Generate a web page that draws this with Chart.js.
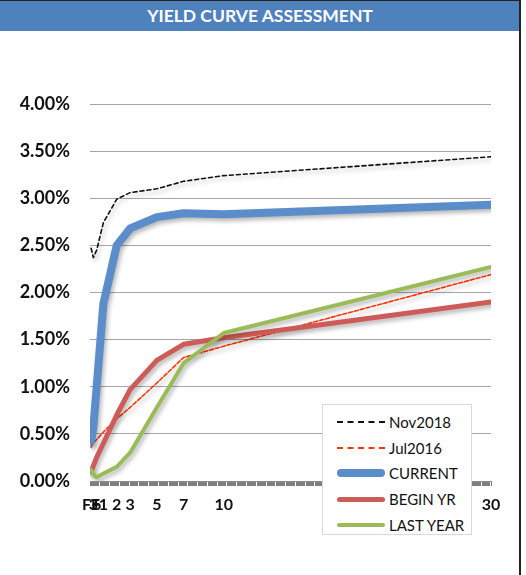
<!DOCTYPE html>
<html>
<head>
<meta charset="utf-8">
<script src="https://cdn.jsdelivr.net/npm/chart.js@4.4.1/dist/chart.umd.min.js"></script>
<style>
  body { margin: 0; background: #fff; font-family: Lato, "Open Sans", sans-serif; }
  #wrap { position: relative; width: 526px; height: 575px; overflow: hidden; }
  #frame { position: absolute; left: 0; top: 0; width: 521px; height: 575px; border-top: 1px solid #222; border-right: 2px solid #222; box-sizing: border-box; pointer-events: none; }
  #banner { position: absolute; left: 0; top: 1px; width: 520px; height: 30px; background: #4F81BD; color: #fff; font-weight: 700; font-size: 17.5px; text-align: center; line-height: 30px; }
  #legend { position: absolute; left: 322px; top: 404px; width: 150px; height: 131px; border: 1px solid #d9d9d9; background: #fff; box-sizing: border-box; }
  .row { position: absolute; left: 14px; height: 20px; display: flex; align-items: center; font-size: 15px; color: #111; }
  .sample { width: 48px; margin-right: 4px; }
</style>
</head>
<body>
<div id="wrap">
  <canvas id="yieldChart" width="526" height="575"></canvas>
  <div id="banner">YIELD CURVE ASSESSMENT</div>
  <div id="legend"></div>
  <div id="frame"></div>
</div>
<script>
// tenors in years, and the label shown under each
const tenors = [1 / 12, 0.25, 0.5, 1, 2, 3, 5, 7, 10, 30];
const tenorLabels = ["FF", "3", "6", "1", "2", "3", "5", "7", "10", "30"];

// yields in percent
const nov2018 = [2.47, 2.37, 2.45, 2.74, 2.99, 3.06, 3.10, 3.18, 3.24, 3.44];
const jul2016 = [0.36, 0.40, 0.44, 0.52, 0.66, 0.78, 1.04, 1.31, 1.43, 2.19];
const current = [0.42, 0.57, 1.00, 1.88, 2.50, 2.68, 2.80, 2.84, 2.83, 2.93];
const beginYr = [0.10, 0.16, 0.25, 0.40, 0.70, 0.97, 1.28, 1.45, 1.52, 1.90];
const lastYear = [0.12, 0.07, 0.04, 0.08, 0.15, 0.30, 0.78, 1.25, 1.57, 2.27];

const yTicks = [0, 0.5, 1, 1.5, 2, 2.5, 3, 3.5, 4];

Chart.defaults.font.family = "Lato";

function pts(values) {
  return values.map((v, i) => ({ x: tenors[i], y: v }));
}

const series = [
  { label: "Nov2018", data: pts(nov2018), borderColor: "#111111", borderWidth: 1.6, borderDash: [4, 3], order: 5 },
  { label: "Jul2016", data: pts(jul2016), borderColor: "#FF3300", borderWidth: 1.6, borderDash: [4, 2], order: 4 },
  { label: "CURRENT", data: pts(current), borderColor: "#5A8DCA", borderWidth: 8, order: 3 },
  { label: "BEGIN YR", data: pts(beginYr), borderColor: "#CD5B57", borderWidth: 5, order: 2 },
  { label: "LAST YEAR", data: pts(lastYear), borderColor: "#9BBB59", borderWidth: 4, order: 1 }
];

// soft drop shadow like the spreadsheet lines
const shadowPlugin = {
  id: "shadow",
  beforeDatasetsDraw(chart) {
    const ctx = chart.ctx;
    ctx.save();
    ctx.shadowColor = "rgba(0,0,0,0.28)";
    ctx.shadowBlur = 4;
    ctx.shadowOffsetX = 2;
    ctx.shadowOffsetY = 3;
  },
  afterDatasetsDraw(chart) {
    chart.ctx.restore();
  }
};

const ctx = document.getElementById("yieldChart").getContext("2d");

new Chart(ctx, {
  type: "line",
  data: {
    datasets: series.map(s => Object.assign({
      pointRadius: 0,
      fill: false,
      tension: 0,
      borderCapStyle: "round",
      borderJoinStyle: "round"
    }, s))
  },
  options: {
    responsive: false,
    animation: false,
    layout: { padding: { top: 104, right: 35, bottom: 0, left: 0 } },
    plugins: {
      legend: { display: false },
      tooltip: { enabled: false }
    },
    scales: {
      x: {
        type: "linear",
        min: 0,
        max: 30,
        afterFit(scale) { scale.height = 94; },
        afterBuildTicks(scale) {
          // one small tick per month, like the category axis in the original
          const t = [];
          for (let m = 0; m <= 360; m++) t.push({ value: m / 12 });
          scale.ticks = t;
        },
        ticks: {
          autoSkip: false,
          maxRotation: 0,
          padding: 9,
          color: "#111",
          font: { size: 16, weight: "bold" },
          callback(value) {
            const i = tenors.findIndex(t => Math.abs(t - value) < 1e-6);
            return i >= 0 ? tenorLabels[i] : "";
          }
        },
        grid: { drawOnChartArea: false, drawTicks: true, tickLength: 5, color: "#7f7f7f", lineWidth: 1 },
        border: { display: true, color: "#8c8c8c", width: 1 }
      },
      y: {
        min: 0,
        max: 4,
        afterFit(scale) { scale.width = 90; },
        afterBuildTicks(scale) {
          scale.ticks = yTicks.map(v => ({ value: v }));
        },
        ticks: {
          padding: 20,
          color: "#111",
          font: { size: 18, weight: "bold" },
          callback: v => v.toFixed(2) + "%"
        },
        grid: { color: "#a6a6a6", lineWidth: 1, drawTicks: false },
        border: { display: false }
      }
    }
  },
  plugins: [shadowPlugin]
});

// legend inside the plot, built from the same series
const legend = document.getElementById("legend");
series.forEach((s, i) => {
  const row = document.createElement("div");
  row.className = "row";
  row.style.top = (7 + i * 25.7) + "px";
  const sample = document.createElement("div");
  sample.className = "sample";
  if (s.borderDash) {
    sample.style.borderTop = "2px dashed " + s.borderColor;
  } else {
    sample.style.height = s.borderWidth + "px";
    sample.style.background = s.borderColor;
    sample.style.borderRadius = s.borderWidth / 2 + "px";
  }
  const text = document.createElement("span");
  text.textContent = s.label;
  row.appendChild(sample);
  row.appendChild(text);
  legend.appendChild(row);
});
</script>
</body>
</html>
